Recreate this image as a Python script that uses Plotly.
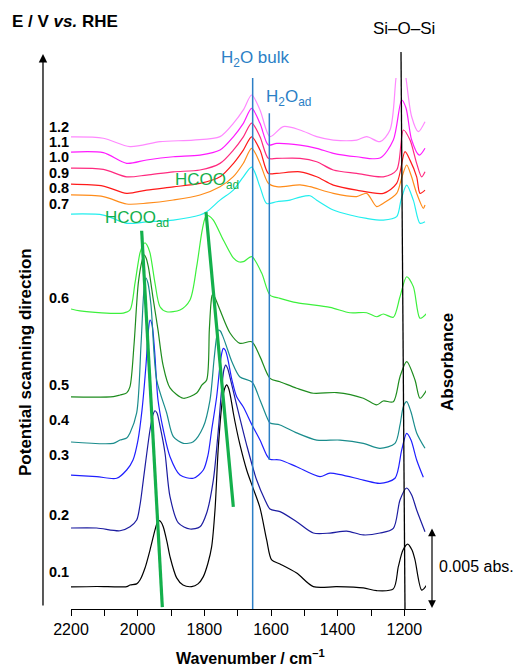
import plotly.graph_objects as go

# Electrode potentials (V vs. RHE) and trace colours, bottom to top
potentials = ["0.1", "0.2", "0.3", "0.4", "0.5", "0.6", "0.7", "0.8", "0.9", "1.0", "1.1", "1.2"]
colors = ["#000000", "#1c1ca0", "#1f1fff", "#1a8c8c", "#1e8c1e", "#3cf03c",
          "#22eeee", "#ff8c1a", "#ff1a1a", "#ff2a7f", "#ff1aff", "#ff88ff"]

# Stacking offsets of each spectrum (mAbs)
offsets = [1.36, 5.0, 8.27, 10.31, 13.09, 18.52, 24.38, 25.56, 26.23, 27.22, 28.21, 29.14]

# Spectra: wavenumber (cm-1) and absorbance relative to the 2200 cm-1 baseline (mAbs)
wn_01 = [2200, 2123, 2033, 2023, 2003, 1993, 1978, 1963, 1948, 1941, 1935, 1929, 1923, 1912, 1903, 1883,
         1864, 1838, 1819, 1803, 1789, 1778, 1768, 1758, 1746, 1739, 1733, 1727, 1720, 1713, 1703, 1693,
         1673, 1654, 1633, 1613, 1598, 1573, 1523, 1473, 1403, 1323, 1283, 1233, 1218, 1204, 1190, 1177,
         1168, 1148, 1133]
abs_01 = [0, 0.03, 0.02, 0.12, 0.19, 0.43, 1.17, 2.28, 3.52, 3.98, 4.09, 3.98, 3.70, 2.78, 1.87, 0.56,
          0.12, 0.02, 0.19, 0.64, 1.48, 2.49, 4.75, 8.64, 11.5, 12.25, 12.47, 12.25, 11.6, 10.74, 9.69, 8.77,
          7.22, 6.11, 4.88, 2.90, 1.67, 1.42, 0.86, 0.02, 0.02, -0.06, -0.23, -0.12, 1.25, 2.28, 2.65, 2.28,
          1.67, -0.19, 0.12]

wn_02 = [2200, 2123, 2053, 2023, 2003, 1993, 1983, 1963, 1954, 1948, 1942, 1933, 1918, 1903, 1878, 1843,
         1813, 1793, 1773, 1758, 1747, 1741, 1736, 1730, 1723, 1703, 1673, 1643, 1618, 1603, 1573, 1523,
         1473, 1423, 1373, 1323, 1273, 1233, 1213, 1193, 1178, 1163, 1138]
abs_02 = [0, 0, -0.17, 0.08, 0.49, 1.42, 2.96, 6.05, 7.0, 7.24, 7.1, 6.3, 4.63, 1.93, 0.31, -0.06,
          0.08, 0.93, 2.96, 6.05, 8.83, 9.8, 10.06, 9.85, 9.3, 7.59, 5.12, 2.96, 1.73, 1.17, 1.01, 0.39,
          -0.31, -0.31, -0.19, -0.43, -0.31, -0.02, 1.73, 2.47, 2.04, 1.11, -0.23]

wn_03 = [2200, 2123, 2063, 2033, 2014, 1999, 1987, 1975, 1968, 1963, 1957, 1949, 1939, 1923, 1903, 1873,
         1833, 1803, 1789, 1778, 1763, 1753, 1748, 1743, 1737, 1730, 1717, 1703, 1683, 1657, 1633, 1613,
         1603, 1573, 1523, 1453, 1423, 1323, 1273, 1228, 1208, 1193, 1180, 1163, 1143]
abs_03 = [0, -0.10, -0.20, 0.31, 0.93, 2.16, 4.01, 6.79, 8.9, 9.57, 9.3, 7.6, 4.63, 2.78, 1.13, 0,
          -0.20, 0.31, 1.23, 2.78, 4.83, 6.79, 7.5, 7.82, 7.7, 7.2, 5.86, 4.83, 4.20, 3.09, 2.16, 1.23,
          0.97, 0.93, 0.51, -0.10, 0.12, -0.31, -0.51, -0.20, 1.54, 2.57, 2.16, 0.93, -0.14]

wn_04 = [2200, 2073, 2053, 2033, 2023, 2003, 1990, 1981, 1975, 1969, 1960, 1943, 1913, 1893, 1863, 1833,
         1803, 1783, 1771, 1763, 1758, 1752, 1745, 1735, 1717, 1693, 1657, 1633, 1613, 1603, 1573, 1523,
         1463, 1393, 1323, 1273, 1228, 1213, 1203, 1193, 1180, 1163, 1138]
abs_04 = [0, -0.08, 0.12, 0.25, 0.56, 1.79, 5.99, 9.4, 10.12, 9.8, 8.46, 3.83, 1.79, 0.33, -0.08, 0.02,
          0.94, 2.59, 5.06, 6.5, 6.91, 6.85, 6.55, 5.99, 4.94, 4.01, 3.70, 2.59, 1.56, 1.17, 1.05, 0.56,
          0.12, 0.12, -0.08, -0.39, -0.08, 1.05, 2.18, 2.49, 1.85, 0.56, -0.39]

wn_05 = [2200, 2073, 2053, 2033, 2023, 2011, 1998, 1987, 1981, 1975, 1968, 1953, 1939, 1924, 1903, 1863,
         1823, 1807, 1793, 1785, 1780, 1776, 1770, 1765, 1753, 1723, 1693, 1658, 1633, 1603, 1573, 1523,
         1473, 1403, 1323, 1283, 1263, 1233, 1213, 1193, 1168, 1153, 1133]
abs_05 = [0, 0.02, 0.12, 0.25, 0.64, 3.21, 7.04, 8.4, 8.77, 8.6, 8.04, 5.99, 4.14, 1.98, 0.56, -0.08,
          0.25, 0.74, 1.05, 4.14, 5.8, 6.30, 6.2, 5.99, 5.37, 3.95, 3.31, 3.41, 2.49, 1.15, 0.94, 0.54,
          0.23, 0.27, -0.08, -0.49, -0.25, -0.29, 1.25, 2.18, 1.05, -0.08, 0.43]

wn_06 = [2200, 2173, 2043, 2023, 2008, 1993, 1984, 1978, 1972, 1963, 1948, 1933, 1913, 1873, 1843, 1823,
         1808, 1799, 1793, 1787, 1773, 1743, 1713, 1698, 1683, 1658, 1628, 1603, 1573, 1523, 1423, 1363,
         1313, 1283, 1263, 1233, 1213, 1193, 1173, 1153, 1133]
abs_06 = [0, -0.12, -0.25, -0.06, 1.60, 3.46, 3.95, 4.09, 3.95, 3.46, 1.60, 0.14, -0.17, -0.06, 0.56, 2.61,
          4.69, 5.55, 5.80, 5.75, 5.49, 4.26, 3.15, 2.92, 2.92, 3.23, 2.22, 0.86, 0.66, 0.39, 0.10, -0.23,
          -0.23, -0.48, -0.31, -0.51, 0.76, 1.99, 1.38, -0.57, -0.27]

wn_07 = [2200, 2103, 2033, 1973, 1893, 1813, 1793, 1753, 1713, 1683, 1658, 1633, 1613, 1583, 1543, 1513,
         1483, 1463, 1413, 1363, 1313, 1263, 1223, 1210, 1193, 1173, 1153, 1138]
abs_07 = [0, -0.06, -0.57, -0.48, -0.37, -0.06, 0.14, 0.86, 1.48, 2.30, 2.90, 1.68, 0.65, 0.76, 0.86, 1.05,
          1.13, 0.86, 0.25, -0.06, -0.27, -0.37, -0.16, 0.86, 1.79, 0.86, -0.57, -0.47]

wn_08 = [2200, 2103, 2033, 1973, 1893, 1813, 1753, 1713, 1683, 1658, 1633, 1608, 1583, 1513, 1483, 1413,
         1343, 1313, 1283, 1263, 1223, 1208, 1193, 1180, 1163, 1143, 1138]
abs_08 = [0, -0.10, -0.56, -0.51, -0.31, 0, 0.51, 1.13, 1.96, 2.88, 1.96, 0.72, 0.51, 0.62, 0.51, 0.10,
          -0.10, 0.10, -0.72, -0.51, 0.10, 1.05, 1.85, 1.23, 0.10, -0.82, -0.62]

wn_09 = [2200, 2103, 2033, 1973, 1893, 1813, 1753, 1713, 1683, 1658, 1633, 1608, 1583, 1513, 1463, 1413,
         1343, 1263, 1223, 1198, 1183, 1163, 1153, 1138]
abs_09 = [0, -0.12, -0.57, -0.37, -0.17, 0.04, 0.45, 1.27, 2.10, 2.92, 2.10, 0.66, 0.66, 0.76, 0.45, -0.06,
          -0.37, -0.57, 0.04, 2.00, 1.48, 0.45, -0.57, -0.37]

wn_10 = [2200, 2103, 2033, 1973, 1893, 1813, 1753, 1713, 1683, 1658, 1633, 1608, 1583, 1513, 1463, 1413,
         1343, 1263, 1223, 1203, 1183, 1163, 1148, 1138]
abs_10 = [0, -0.08, -0.54, -0.43, -0.23, -0.12, 0.29, 1.11, 1.93, 2.78, 1.93, 0.60, 0.60, 0.60, 0.39, -0.12,
          -0.33, -0.54, -0.12, 2.35, 1.73, 0.29, -0.54, -0.23]

wn_11 = [2200, 2103, 2033, 1973, 1893, 1813, 1753, 1713, 1683, 1658, 1633, 1608, 1583, 1513, 1463, 1413,
         1343, 1273, 1233, 1208, 1195, 1178, 1155, 1138]
abs_11 = [0, -0.04, -0.70, -0.49, -0.29, -0.19, 0.12, 0.94, 1.77, 2.69, 1.77, 0.43, 0.53, 0.43, 0.23, -0.08,
          -0.29, -0.37, 0.74, 3.21, 2.72, 0.74, -0.19, 0.23]

wn_12 = [2200, 2103, 2023, 1933, 1833, 1753, 1713, 1683, 1658, 1633, 1603, 1563, 1513, 1463, 1413, 1343,
         1313, 1273, 1243, 1225, 1210, 1195, 1178, 1158, 1138]
abs_12 = [0, -0.08, -0.60, -0.29, -0.19, 0.02, 0.84, 1.67, 2.59, 1.67, 0.02, 0.64, 0.43, 0.02, -0.19, -0.19,
          0.02, -0.29, 0.43, 3.64, 6.0, 3.64, 1.25, 0.33, 0.94]

wavenumbers = [wn_01, wn_02, wn_03, wn_04, wn_05, wn_06, wn_07, wn_08, wn_09, wn_10, wn_11, wn_12]
absorbances = [abs_01, abs_02, abs_03, abs_04, abs_05, abs_06, abs_07, abs_08, abs_09, abs_10, abs_11, abs_12]

# HCOO_ad band-shift guides: (wavenumber, mAbs) at both ends
hcoo_high_wn = [1988, 1926]
hcoo_high_abs = [23.35, 0.12]
hcoo_low_wn = [1795, 1713]
hcoo_low_abs = [24.5, 6.31]

# Band markers (cm-1)
h2o_bulk_wn = 1655
h2o_ad_wn = 1605
h2o_ad_span = [9.2, 30.6]
sio_wn = [1198, 1210]

# Potential label heights (mAbs)
label_y = [2.28, 5.80, 9.51, 11.67, 13.83, 19.2, 25.0, 25.99, 26.91, 27.90, 28.83, 29.75]

x_ticks = [2200, 2000, 1800, 1600, 1400, 1200]
x_minor = [2100, 1900, 1700, 1500, 1300]
scale_bar_mabs = 5.0

FONT = "Arial, 'Liberation Sans', sans-serif"
GREEN = "#14b04c"
BLUE = "#2c7fc6"

fig = go.Figure()

for wn, a, off, col in zip(wavenumbers, absorbances, offsets, colors):
    fig.add_trace(go.Scatter(
        x=wn, y=[v + off for v in a], mode="lines",
        line=dict(color=col, width=1.2, shape="spline", smoothing=0.8),
        showlegend=False, hoverinfo="skip"))

shapes = [
    # H2O bulk and H2O adsorbed markers
    dict(type="line", xref="x", yref="paper", x0=h2o_bulk_wn, x1=h2o_bulk_wn, y0=0, y1=1,
         line=dict(color=BLUE, width=1.5)),
    dict(type="line", xref="x", yref="y", x0=h2o_ad_wn, x1=h2o_ad_wn,
         y0=h2o_ad_span[0], y1=h2o_ad_span[1], line=dict(color=BLUE, width=1.5)),
    # Si-O-Si marker
    dict(type="line", xref="x", yref="paper", x0=sio_wn[0], x1=sio_wn[1], y0=0, y1=1.049,
         line=dict(color="black", width=1.3)),
    # HCOO_ad shift guides
    dict(type="line", xref="x", yref="y", x0=hcoo_high_wn[0], x1=hcoo_high_wn[1],
         y0=hcoo_high_abs[0], y1=hcoo_high_abs[1], line=dict(color=GREEN, width=3.2)),
    dict(type="line", xref="x", yref="y", x0=hcoo_low_wn[0], x1=hcoo_low_wn[1],
         y0=hcoo_low_abs[0], y1=hcoo_low_abs[1], line=dict(color=GREEN, width=3.2)),
]

annotations = []
# Potential labels
for p, ly in zip(potentials, label_y):
    annotations.append(dict(xref="paper", yref="y", x=-0.069, y=ly, text=f"<b>{p}</b>",
                            showarrow=False, xanchor="left", yanchor="middle",
                            font=dict(family=FONT, size=14.5, color="black")))

annotations += [
    dict(xref="paper", yref="paper", x=-0.1718, y=1.1064, text="<b>E / V <i>vs.</i> RHE</b>",
         showarrow=False, xanchor="left", yanchor="middle", font=dict(family=FONT, size=17, color="black")),
    dict(xref="paper", yref="paper", x=0.5211, y=1.035, text="H<sub>2</sub>O bulk",
         showarrow=False, xanchor="center", yanchor="middle", font=dict(family=FONT, size=17, color=BLUE)),
    dict(xref="paper", yref="paper", x=0.5437, y=0.962, text="H<sub>2</sub>O<sub>ad</sub>",
         showarrow=False, xanchor="left", yanchor="middle", font=dict(family=FONT, size=17, color=BLUE)),
    dict(xref="paper", yref="paper", x=0.938, y=1.0923, text="Si–O–Si",
         showarrow=False, xanchor="center", yanchor="middle", font=dict(family=FONT, size=17, color="black")),
    dict(xref="paper", yref="paper", x=0.2865, y=0.806, text="HCOO<sub>ad</sub>",
         showarrow=False, xanchor="left", yanchor="middle", font=dict(family=FONT, size=17, color=GREEN)),
    dict(xref="paper", yref="paper", x=0.0893, y=0.735, text="HCOO<sub>ad</sub>",
         showarrow=False, xanchor="left", yanchor="middle", font=dict(family=FONT, size=17, color=GREEN)),
    dict(xref="paper", yref="paper", x=-0.1268, y=0.4652, text="<b>Potential scanning direction</b>",
         showarrow=False, textangle=-90, xanchor="center", yanchor="middle",
         font=dict(family=FONT, size=17, color="black")),
    dict(xref="paper", yref="paper", x=1.059, y=0.465, text="<b>Absorbance</b>",
         showarrow=False, textangle=-90, xanchor="center", yanchor="middle",
         font=dict(family=FONT, size=17, color="black")),
    dict(xref="paper", yref="paper", x=1.031, y=0.0791, text="0.005 abs.",
         showarrow=False, xanchor="left", yanchor="middle", font=dict(family=FONT, size=16, color="black")),
    dict(xref="paper", yref="paper", x=0.507, y=-0.09, text="<b>Wavenumber / cm<sup>–1</sup></b>",
         showarrow=False, xanchor="center", yanchor="middle", font=dict(family=FONT, size=16, color="black")),
    # Potential scanning direction arrow
    dict(xref="paper", yref="paper", x=-0.0789, y=1.0452, ax=0, ay=553, text="",
         showarrow=True, arrowhead=2, arrowsize=1.3, arrowwidth=1.3, arrowcolor="black"),
    # Absorbance scale bar
    dict(xref="paper", yref="y", x=1.0169, y=0.06, axref="pixel", ayref="y", ax=0,
         ay=0.06 + scale_bar_mabs, text="", showarrow=True, arrowside="end+start",
         arrowhead=2, arrowsize=1.3, arrowwidth=1.2, arrowcolor="black"),
]

fig.update_layout(
    width=513, height=668,
    margin=dict(l=71, r=87, t=78, b=59),
    paper_bgcolor="white", plot_bgcolor="white",
    shapes=shapes, annotations=annotations,
    xaxis=dict(range=[2200, 1135], showgrid=False, zeroline=False,
               showline=True, linecolor="black", linewidth=1.2,
               tickvals=x_ticks, ticktext=[str(t) for t in x_ticks],
               ticks="outside", ticklen=6, tickwidth=1.2, tickcolor="black",
               tickfont=dict(family=FONT, size=16, color="black"),
               minor=dict(tickvals=x_minor, ticks="outside", ticklen=6, tickwidth=1.2, tickcolor="black")),
    yaxis=dict(range=[0, 32.78], visible=False, showgrid=False, zeroline=False),
)

fig.write_html("out.html")
